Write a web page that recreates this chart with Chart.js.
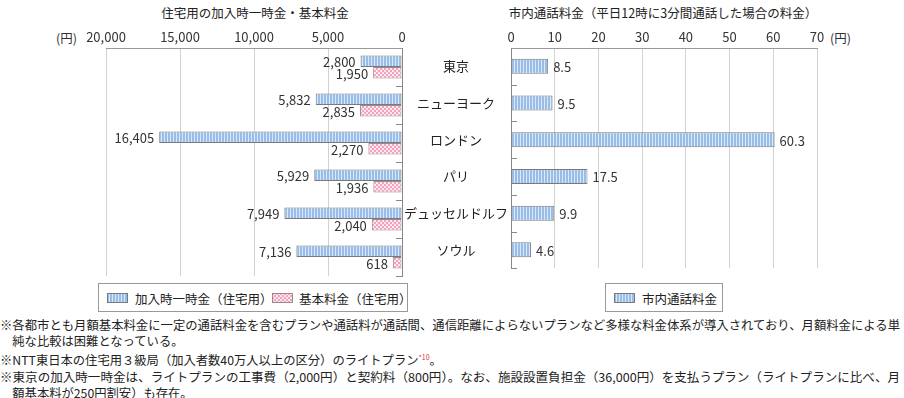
<!DOCTYPE html>
<html>
<head>
<meta charset="utf-8">
<script src="https://cdn.jsdelivr.net/npm/chart.js@4.4.0/dist/chart.umd.min.js"></script>
<style>
  body { margin: 0; width: 904px; height: 398px; background: #fff; position: relative; overflow: hidden;
         font-family: "Noto Sans CJK JP", sans-serif; color: #333; }
  .abs { position: absolute; white-space: nowrap; }
  .title { font-size: 12.5px; top: 3px; transform: translateX(-50%); color: #222; }
  .unit { font-size: 12.5px; top: 28px; color: #333; }
  .legend { position: absolute; border: 1px solid #999; box-sizing: border-box; height: 29px; font-size: 12.5px; color: #222; }
  .legend canvas { position: absolute; top: 9px; }
  .legend span { position: absolute; top: 5px; white-space: nowrap; }
  #notes { position: absolute; left: 0; top: 317px; font-size: 12.3px; line-height: 16.2px; color: #222; }
  #notes div { white-space: nowrap; transform-origin: left center; }
  sup { color: #e0303a; font-size: 7px; vertical-align: 5px; }
</style>
</head>
<body>
<div class="abs title" style="left:255px">住宅用の加入時一時金・基本料金</div>
<div class="abs title" style="left:663px">市内通話料金（平日12時に3分間通話した場合の料金）</div>
<div class="abs unit" style="left:56px">(円)</div>
<div class="abs unit" style="left:830px">(円)</div>

<canvas id="left" width="420" height="279" style="position:absolute;left:0;top:0"></canvas>
<canvas id="right" width="500" height="279" style="position:absolute;left:404px;top:0"></canvas>

<div class="legend" style="left:98px;top:283px;width:310px">
  <canvas id="sw1" width="21" height="10" style="left:8px"></canvas><span style="left:36px">加入時一時金（住宅用）</span>
  <canvas id="sw2" width="21" height="10" style="left:173px"></canvas><span style="left:200px">基本料金（住宅用）</span>
</div>
<div class="legend" style="left:605px;top:283px;width:118px">
  <canvas id="sw3" width="21" height="10" style="left:8px"></canvas><span style="left:36px">市内通話料金</span>
</div>

<div id="notes">
  <div class="fit">※各都市とも月額基本料金に一定の通話料金を含むプランや通話料が通話間、通信距離によらないプランなど多様な料金体系が導入されており、月額料金による単</div>
  <div>&emsp;純な比較は困難となっている。</div>
  <div>※NTT東日本の住宅用３級局（加入者数40万人以上の区分）のライトプラン<sup>*10</sup>。</div>
  <div class="fit">※東京の加入時一時金は、ライトプランの工事費（2,000円）と契約料（800円）。なお、施設設置負担金（36,000円）を支払うプラン（ライトプランに比べ、月</div>
  <div>&emsp;額基本料が250円割安）も存在。</div>
</div>

<script>
// data
const cities = ['東京', 'ニューヨーク', 'ロンドン', 'パリ', 'デュッセルドルフ', 'ソウル'];
const joinFee = [2800, 5832, 16405, 5929, 7949, 7136];
const basicFee = [1950, 2835, 2270, 1936, 2040, 618];
const callFee = [8.5, 9.5, 60.3, 17.5, 9.9, 4.6];

const FONT = '"Noto Sans CJK JP", sans-serif';
Chart.defaults.font.family = FONT;
Chart.defaults.color = '#333';

// bar fills
function stripePattern(ctx) {
  const c = document.createElement('canvas');
  c.width = 3; c.height = 4;
  const g = c.getContext('2d');
  g.fillStyle = '#98bde8'; g.fillRect(0, 0, 3, 4);
  g.fillStyle = '#dbe8f7'; g.fillRect(2, 0, 1, 4);
  return ctx.createPattern(c, 'repeat');
}
function checkPattern(ctx) {
  const c = document.createElement('canvas');
  c.width = 4; c.height = 4;
  const g = c.getContext('2d');
  g.fillStyle = '#fde9ef'; g.fillRect(0, 0, 4, 4);
  g.fillStyle = '#f2a2bb'; g.fillRect(0, 0, 2, 2); g.fillRect(2, 2, 2, 2);
  return ctx.createPattern(c, 'repeat');
}

// small ticks between categories, drawn inside the plot
const catTicks = {
  id: 'catTicks',
  afterDraw(chart, args, opts) {
    const s = chart.scales.y, ctx = chart.ctx;
    const x = opts.side === 'right' ? chart.chartArea.right : chart.chartArea.left;
    const dir = opts.side === 'right' ? -1 : 1;
    const n = chart.data.labels.length;
    ctx.save();
    ctx.strokeStyle = '#8a8a8a'; ctx.lineWidth = 1;
    for (let i = 1; i <= n; i++) {
      const y = Math.round(s.top + i * (s.bottom - s.top) / n) + 0.5;
      ctx.beginPath(); ctx.moveTo(x, y); ctx.lineTo(x + dir * 6, y); ctx.stroke();
    }
    ctx.restore();
  }
};

// value labels at the bar ends
const valueLabels = {
  id: 'valueLabels',
  afterDatasetsDraw(chart, args, opts) {
    const ctx = chart.ctx;
    ctx.save();
    ctx.font = '13px ' + FONT;
    ctx.fillStyle = '#333';
    ctx.textBaseline = 'middle';
    chart.data.datasets.forEach((ds, di) => {
      chart.getDatasetMeta(di).data.forEach((bar, i) => {
        const txt = opts.fmt(ds.data[i]);
        if (opts.side === 'left') { ctx.textAlign = 'right'; ctx.fillText(txt, bar.x - 5, bar.y + 1); }
        else { ctx.textAlign = 'left'; ctx.fillText(txt, bar.x + 5, bar.y + 1); }
      });
    });
    ctx.restore();
  }
};

const leftCtx = document.getElementById('left').getContext('2d');
new Chart(leftCtx, {
  type: 'bar',
  data: {
    labels: cities,
    datasets: [
      { label: '加入時一時金（住宅用）', data: joinFee, backgroundColor: stripePattern(leftCtx), borderColor: '#7a7a7a', borderWidth: 1, borderSkipped: false, barPercentage: 1, categoryPercentage: 0.6 },
      { label: '基本料金（住宅用）', data: basicFee, backgroundColor: checkPattern(leftCtx), borderColor: '#9a8a90', borderWidth: 1, borderSkipped: false, barPercentage: 1, categoryPercentage: 0.6 },
    ],
  },
  options: {
    indexAxis: 'y', responsive: false, animation: false, devicePixelRatio: 1,
    layout: { padding: { left: 106, right: 0, top: 0, bottom: 3 } },
    scales: {
      x: {
        position: 'top', reverse: true, min: 0, max: 20000,
        ticks: { stepSize: 5000, font: { size: 13 }, color: '#333', padding: 3, callback: v => v.toLocaleString('en-US') },
        grid: { color: '#d2d2d2', drawTicks: false },
        border: { color: '#999' },
        afterFit: s => { s.height = 48; },
      },
      y: {
        position: 'right',
        ticks: { display: false },
        grid: { display: true, drawOnChartArea: false, drawTicks: false },
        border: { color: '#888' },
        afterFit: s => { s.width = 18; },
      },
    },
    plugins: {
      legend: { display: false }, tooltip: { enabled: false },
      catTicks: { side: 'right' },
      valueLabels: { side: 'left', fmt: v => v.toLocaleString('en-US') },
    },
  },
  plugins: [catTicks, valueLabels],
});

const rightCtx = document.getElementById('right').getContext('2d');
new Chart(rightCtx, {
  type: 'bar',
  data: {
    labels: cities,
    datasets: [
      { label: '市内通話料金', data: callFee, backgroundColor: stripePattern(rightCtx), borderColor: '#7a7a7a', borderWidth: 1, borderSkipped: false, barPercentage: 1, categoryPercentage: 0.41 },
    ],
  },
  options: {
    indexAxis: 'y', responsive: false, animation: false, devicePixelRatio: 1,
    layout: { padding: { left: 0, right: 87, top: 0, bottom: 3 } },
    scales: {
      x: {
        position: 'top', min: 0, max: 70,
        ticks: { stepSize: 10, font: { size: 13 }, color: '#333', padding: 3 },
        grid: { color: '#d2d2d2', drawTicks: false },
        border: { color: '#999' },
        afterFit: s => { s.height = 48; },
      },
      y: {
        position: 'left',
        ticks: { font: { size: 13 }, color: '#222', crossAlign: 'center', padding: 3 },
        grid: { display: true, drawOnChartArea: false, drawTicks: false },
        border: { color: '#888' },
        afterFit: s => { s.width = 107; },
      },
    },
    plugins: {
      legend: { display: false }, tooltip: { enabled: false },
      catTicks: { side: 'left' },
      valueLabels: { side: 'right', fmt: v => v.toFixed(1) },
    },
  },
  plugins: [catTicks, valueLabels],
});

// legend swatches
function swatch(id, mk, border) {
  const g = document.getElementById(id).getContext('2d');
  g.fillStyle = mk(g); g.fillRect(0, 0, 21, 10);
  g.strokeStyle = border; g.strokeRect(0.5, 0.5, 20, 9);
}
swatch('sw1', stripePattern, '#7a7a7a');
swatch('sw2', checkPattern, '#9a8a90');
swatch('sw3', stripePattern, '#7a7a7a');

// stretch the two full-width note lines to the page width
document.querySelectorAll('#notes .fit').forEach(el => {
  el.style.display = 'inline-block';
  const w = el.getBoundingClientRect().width;
  el.style.display = 'block';
  el.style.transform = 'scaleX(' + (900 / w) + ')';
});
</script>
</body>
</html>
